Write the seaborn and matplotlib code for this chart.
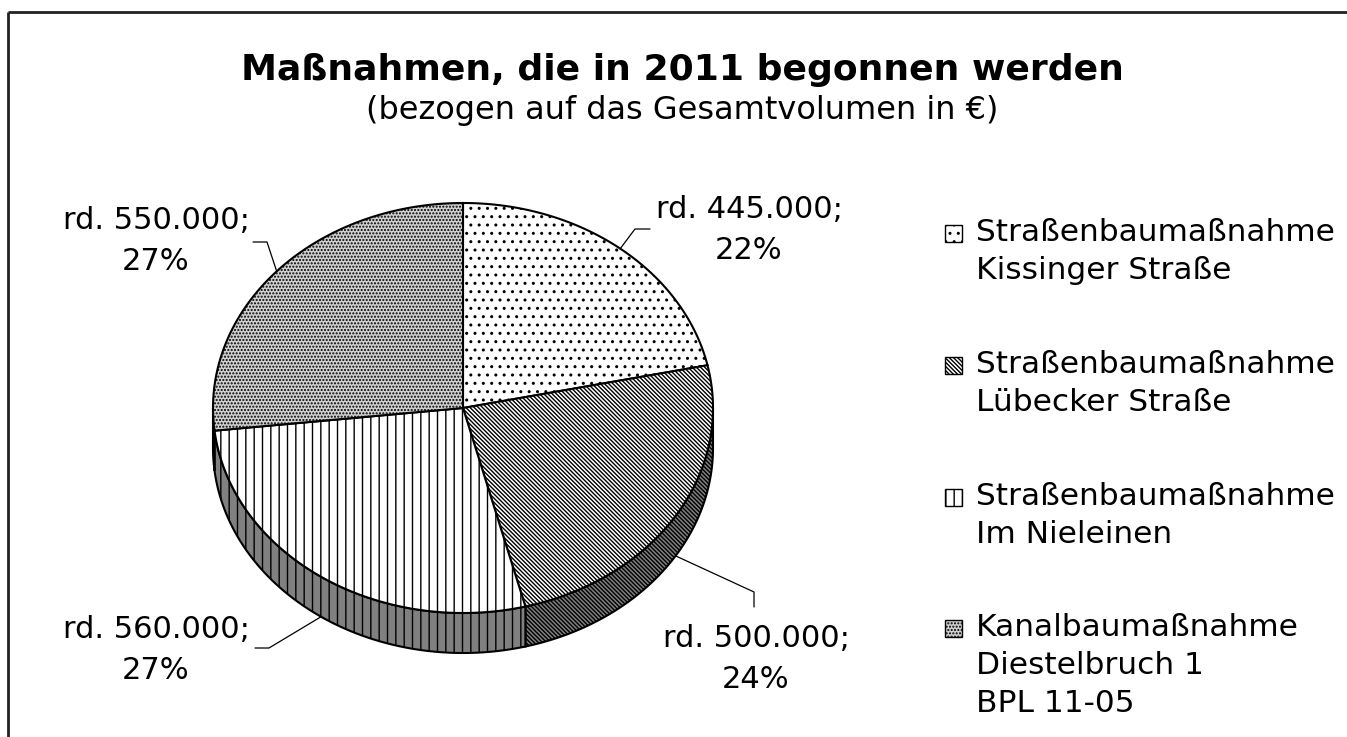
import numpy as np
import matplotlib
matplotlib.use("Agg")
import matplotlib.pyplot as plt
from matplotlib.patches import Polygon, Rectangle
import seaborn as sns

# Chart data
title = "Maßnahmen, die in 2011 begonnen werden"
subtitle = "(bezogen auf das Gesamtvolumen in €)"
categories = [
    "Straßenbaumaßnahme\nKissinger Straße",
    "Straßenbaumaßnahme\nLübecker Straße",
    "Straßenbaumaßnahme\nIm Nieleinen",
    "Kanalbaumaßnahme\nDiestelbruch 1\nBPL 11-05",
]
volumes = [445000, 500000, 560000, 550000]

# Styles (black & white hatch patterns like the original)
hatches = ["..", "\\\\\\\\\\\\\\\\", "||", "....."]
top_colors = ["white", "white", "white", "#d0d0d0"]
side_color = "#808080"

sns.set_theme(style="white")
plt.rcParams["font.family"] = ["DejaVu Sans"]
plt.rcParams["text.color"] = "black"
plt.rcParams["hatch.linewidth"] = 1.0

fig = plt.figure(figsize=(13.47, 7.37), dpi=100)
ax = fig.add_axes([0, 0, 1, 1])
ax.set_xlim(0, 1347)
ax.set_ylim(737, 0)
ax.axis("off")

# tilted pie geometry (pixels)
cx, cy = 463, 408
rx, ry = 250, 205
depth = 40


def ellipse_pts(t0, t1, dy=0, n=80):
    t = np.radians(np.linspace(t0, t1, n))
    return np.column_stack([cx + rx * np.cos(t), cy - ry * np.sin(t) + dy])


total = sum(volumes)
fracs = np.array(volumes) / total
bounds = 90 - 360 * np.concatenate([[0], np.cumsum(fracs)])

# side walls first (only the front half is visible)
for i in range(len(volumes)):
    hi, lo = bounds[i], bounds[i + 1]
    for off in (0, -360):
        a, b = max(lo, -180 + off), min(hi, 0 + off)
        if a >= b:
            continue
        top = ellipse_pts(b, a)
        bot = ellipse_pts(a, b, dy=depth)
        ax.add_patch(Polygon(np.vstack([top, bot]), closed=True, facecolor=side_color,
                             edgecolor="black", hatch=hatches[i], lw=1.5))

# top faces
for i in range(len(volumes)):
    hi, lo = bounds[i], bounds[i + 1]
    arc = ellipse_pts(hi, lo, n=120)
    pts = np.vstack([[cx, cy], arc])
    ax.add_patch(Polygon(pts, closed=True, facecolor=top_colors[i],
                         edgecolor="black", hatch=hatches[i], lw=1.5))

# data labels with leader lines
label_pos = [(749, 230), (756, 659), (156, 650), (156, 241)]
leader_bend = [[(635, 229), (650, 229)], [(754, 592), (754, 607)],
               [(269, 648), (255, 648)], [(267, 242), (253, 242)]]
for i, v in enumerate(volumes):
    mid = (bounds[i] + bounds[i + 1]) / 2
    front = np.sin(np.radians(mid)) < 0
    anchor = ellipse_pts(mid, mid, dy=depth if front else 0, n=1)[0]
    path = np.vstack([anchor, leader_bend[i]])
    ax.plot(path[:, 0], path[:, 1], color="black", lw=0.9)
    pct = round(v / total * 100)
    txt = "rd. {};\n{}%".format(f"{v:,}".replace(",", "."), pct)
    ax.text(label_pos[i][0], label_pos[i][1], txt, ha="center", va="center",
            fontsize=22, linespacing=1.5)

# legend
legend_y = [233, 365, 497, 628]
for i, lab in enumerate(categories):
    y = legend_y[i]
    ax.add_patch(Rectangle((945, y - 8), 17, 17, facecolor=top_colors[i],
                           edgecolor="black", hatch=hatches[i], lw=1))
    ax.text(976, y - 15, lab, ha="left", va="top", fontsize=22.5, linespacing=1.4)

# title
ax.text(682, 80, title, ha="center", va="baseline", fontsize=26, fontweight="bold")
ax.text(682, 119, subtitle, ha="center", va="baseline", fontsize=23)

# chart frame (only left and top edges visible)
ax.plot([8, 8], [737, 12], color="#222222", lw=2, solid_capstyle="butt")
ax.plot([8, 1347], [12, 12], color="#222222", lw=2, solid_capstyle="butt")

fig.savefig("out.png", dpi=100, facecolor="white")
